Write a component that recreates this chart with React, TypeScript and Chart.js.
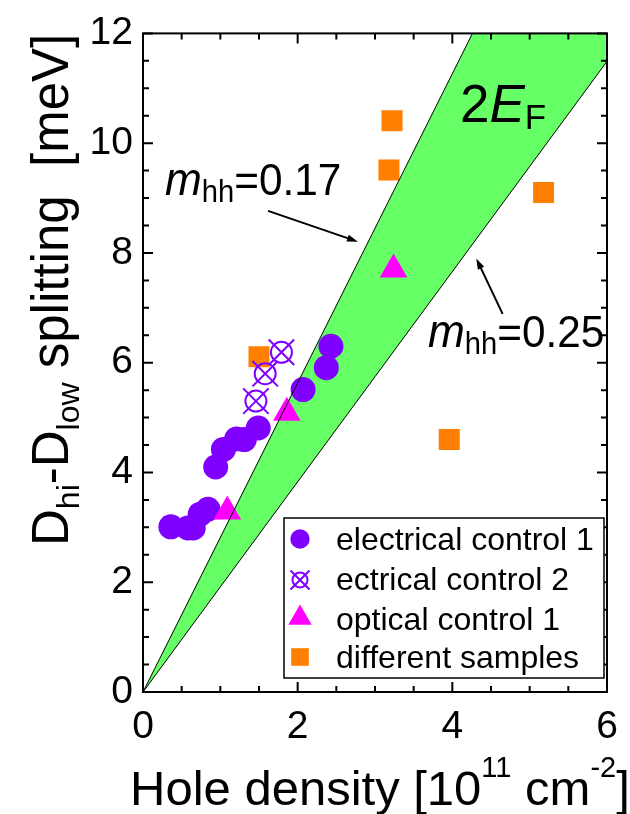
import React, { useEffect, useRef } from "react";
import { Chart, registerables } from "chart.js";
Chart.register(...registerables);

const FONT = '"Liberation Sans", Arial, Helvetica, sans-serif';
const PURPLE = "#7F00FF";
const MAGENTA = "#FF00FF";
const ORANGE = "#FF8000";
const GREEN = "#66FF66";

// electrical control 1
const ec1X = [0.36, 0.58, 0.65, 0.74, 0.84, 0.94, 1.04, 1.21, 1.31, 1.49, 2.07, 2.37, 2.43];
const ec1Y = [3.01, 2.99, 2.99, 3.24, 3.33, 4.1, 4.42, 4.61, 4.6, 4.81, 5.51, 5.91, 6.3];
// ectrical control 2
const ec2X = [1.46, 1.58, 1.79];
const ec2Y = [5.3, 5.8, 6.19];
// optical control 1
const ocX = [1.09, 1.86, 3.24];
const ocY = [3.29, 5.09, 7.7];
// different samples
const dsX = [1.5, 3.22, 3.18, 5.18, 3.96];
const dsY = [6.11, 10.41, 9.51, 9.1, 4.6];
// 2E_F band: m_hh = 0.17 (upper) and m_hh = 0.25 (lower) boundaries
const upperX = [0, 6];
const upperY = [0, 16.9];
const lowerX = [0, 6];
const lowerY = [0, 11.49];
const bandX = [0, 6, 6, 0];
const bandY = [0, 16.9, 11.49, 0];

const xTicks = [0, 2, 4, 6];
const yTicks = [0, 2, 4, 6, 8, 10, 12];

const legendLabels = ["electrical control 1", "ectrical control 2", "optical control 1", "different samples"];

type Seg = { t: string; size: number; it?: boolean; dy?: number };

function rich(ctx: CanvasRenderingContext2D, x: number, y: number, segs: Seg[], sx = 1, rot = 0) {
  ctx.save();
  ctx.translate(x, y);
  if (rot) ctx.rotate(rot);
  ctx.scale(sx, 1);
  ctx.fillStyle = "#000";
  ctx.textBaseline = "alphabetic";
  ctx.textAlign = "left";
  let cx = 0;
  for (const s of segs) {
    ctx.font = `${s.it ? "italic " : ""}${s.size}px ${FONT}`;
    ctx.fillText(s.t, cx, s.dy || 0);
    cx += ctx.measureText(s.t).width;
  }
  ctx.restore();
}

function arrow(ctx: CanvasRenderingContext2D, x1: number, y1: number, x2: number, y2: number) {
  const a = Math.atan2(y2 - y1, x2 - x1);
  const L = 11, W = 3.5;
  ctx.save();
  ctx.strokeStyle = "#000";
  ctx.fillStyle = "#000";
  ctx.lineWidth = 2;
  ctx.beginPath();
  ctx.moveTo(x1, y1);
  ctx.lineTo(x2 - Math.cos(a) * L * 0.8, y2 - Math.sin(a) * L * 0.8);
  ctx.stroke();
  ctx.beginPath();
  ctx.moveTo(x2, y2);
  ctx.lineTo(x2 - Math.cos(a) * L - Math.sin(a) * W, y2 - Math.sin(a) * L + Math.cos(a) * W);
  ctx.lineTo(x2 - Math.cos(a) * L + Math.sin(a) * W, y2 - Math.sin(a) * L - Math.cos(a) * W);
  ctx.closePath();
  ctx.fill();
  ctx.restore();
}

const decor = {
  id: "decor",
  afterDraw(chart: any) {
    const ctx: CanvasRenderingContext2D = chart.ctx;
    const { left, right, top, bottom } = chart.chartArea;
    const xs = chart.scales.x;
    const ys = chart.scales.y;
    const px = (v: number) => xs.getPixelForValue(v);
    const py = (v: number) => ys.getPixelForValue(v);

    // frame
    ctx.save();
    ctx.strokeStyle = "#000";
    ctx.lineWidth = 2;
    ctx.strokeRect(left, top, right - left, bottom - top);
    // ticks
    ctx.lineWidth = 2;
    ctx.beginPath();
    for (let v = 0; v <= 6.0001; v += 0.5) {
      const L = Math.abs(v % 2) < 1e-6 ? 10 : 6;
      const x = px(v);
      ctx.moveTo(x, bottom); ctx.lineTo(x, bottom - L);
      ctx.moveTo(x, top); ctx.lineTo(x, top + L);
    }
    for (let v = 0; v <= 12.0001; v += 0.5) {
      const L = Math.abs(v % 2) < 1e-6 ? 10 : 6;
      const y = py(v);
      ctx.moveTo(left, y); ctx.lineTo(left + L, y);
      ctx.moveTo(right, y); ctx.lineTo(right - L, y);
    }
    ctx.stroke();
    ctx.restore();

    // axis titles
    rich(ctx, 130, 805, [
      { t: "Hole density [10", size: 49 },
      { t: "11", size: 29, dy: -28 },
      { t: " cm", size: 49 },
      { t: "-2", size: 29, dy: -28 },
      { t: "]", size: 49 },
    ]);
    rich(ctx, 68, 546, [
      { t: "D", size: 51 },
      { t: "hi", size: 32, dy: 11 },
      { t: "-D", size: 51 },
      { t: "low", size: 32, dy: 11 },
      { t: " splitting  [meV]", size: 51 },
    ], 1, -Math.PI / 2);

    // annotations
    rich(ctx, 460, 122, [
      { t: "2", size: 53 },
      { t: "E", size: 53, it: true },
      { t: "F", size: 35, dy: 7 },
    ]);
    rich(ctx, 165, 195, [
      { t: "m", size: 47, it: true },
      { t: "hh", size: 31, dy: 7 },
      { t: "=0.17", size: 45 },
    ], 0.94);
    rich(ctx, 428, 347, [
      { t: "m", size: 47, it: true },
      { t: "hh", size: 31, dy: 7 },
      { t: "=0.25", size: 45 },
    ], 0.94);
    arrow(ctx, px(1.617), py(8.766), px(2.78), py(8.205));
    arrow(ctx, px(4.65), py(6.89), px(4.31), py(7.9));

    // legend
    const bx = right - 323, by = bottom - 174, bw = 320, bh = 160;
    ctx.save();
    ctx.fillStyle = "#fff";
    ctx.fillRect(bx, by, bw, bh);
    ctx.strokeStyle = "#000";
    ctx.lineWidth = 1.5;
    ctx.strokeRect(bx, by, bw, bh);
    const mx = bx + 16;
    const baselines = [32, 72, 112, 150];
    const centers = [21, 62, 100, 139];
    ctx.font = `32px ${FONT}`;
    ctx.fillStyle = "#000";
    ctx.textBaseline = "alphabetic";
    legendLabels.forEach((lab, i) => {
      ctx.fillStyle = "#000";
      ctx.fillText(lab, bx + 52, by + baselines[i]);
    });
    // markers
    let cy = by + centers[0];
    ctx.fillStyle = PURPLE;
    ctx.beginPath(); ctx.arc(mx, cy, 9.7, 0, Math.PI * 2); ctx.fill();
    cy = by + centers[1];
    ctx.strokeStyle = PURPLE; ctx.lineWidth = 2;
    ctx.beginPath(); ctx.arc(mx, cy, 7.5, 0, Math.PI * 2); ctx.stroke();
    ctx.beginPath();
    ctx.moveTo(mx - 9.5, cy - 9.5); ctx.lineTo(mx + 9.5, cy + 9.5);
    ctx.moveTo(mx + 9.5, cy - 9.5); ctx.lineTo(mx - 9.5, cy + 9.5);
    ctx.stroke();
    cy = by + centers[2];
    const r = 13.5;
    ctx.fillStyle = MAGENTA;
    ctx.beginPath();
    ctx.moveTo(mx, cy - r);
    ctx.lineTo(mx + r * Math.sin((2 * Math.PI) / 3), cy - r * Math.cos((2 * Math.PI) / 3));
    ctx.lineTo(mx - r * Math.sin((2 * Math.PI) / 3), cy - r * Math.cos((2 * Math.PI) / 3));
    ctx.closePath(); ctx.fill();
    cy = by + centers[3];
    ctx.fillStyle = ORANGE;
    ctx.fillRect(mx - 8.8, cy - 8.8, 17.6, 17.6);
    ctx.restore();
  },
};

const pts = (xs: number[], ys: number[]) => xs.map((x, i) => ({ x, y: ys[i] }));

export default function App() {
  const ref = useRef<HTMLCanvasElement>(null);
  useEffect(() => {
    const canvas = ref.current!;
    const tickFont = { family: FONT, size: 39 };
    const chart = new Chart(canvas, {
      type: "scatter",
      data: {
        datasets: [
          { label: "m_hh=0.17", data: pts(upperX, upperY), showLine: true, borderColor: "#000", borderWidth: 1, pointRadius: 0, fill: false, order: 0 } as any,
          { label: "m_hh=0.25", data: pts(lowerX, lowerY), showLine: true, borderColor: "#000", borderWidth: 1, pointRadius: 0, fill: false, order: 0 } as any,
          { label: "ectrical control 2", data: pts(ec2X, ec2Y), pointStyle: "circle", pointRadius: 10.5, backgroundColor: "rgba(0,0,0,0)", borderColor: PURPLE, borderWidth: 2, order: 1 },
          { label: "ectrical control 2 x", data: pts(ec2X, ec2Y), pointStyle: "crossRot", pointRadius: 18, backgroundColor: PURPLE, borderColor: PURPLE, borderWidth: 2, order: 1 },
          { label: "optical control 1", data: pts(ocX, ocY), pointStyle: "triangle", pointRadius: 16, backgroundColor: MAGENTA, borderColor: MAGENTA, borderWidth: 0, order: 2 },
          { label: "electrical control 1", data: pts(ec1X, ec1Y), pointStyle: "circle", pointRadius: 12.5, backgroundColor: PURPLE, borderColor: PURPLE, borderWidth: 0, order: 3 },
          { label: "different samples", data: pts(dsX, dsY), pointStyle: "rect", pointRadius: 14.85, backgroundColor: ORANGE, borderColor: ORANGE, borderWidth: 0, order: 4 },
          { label: "2E_F", data: pts(bandX, bandY), showLine: true, borderColor: "rgba(0,0,0,0)", borderWidth: 1, backgroundColor: GREEN, pointRadius: 0, fill: "shape", order: 10 } as any,
        ],
      },
      options: {
        responsive: false,
        animation: false,
        devicePixelRatio: 1,
        layout: { padding: { left: 0, right: 23, top: 28, bottom: 0 } },
        plugins: { legend: { display: false }, tooltip: { enabled: false } },
        elements: { point: { hoverRadius: 0 } },
        scales: {
          x: {
            type: "linear", min: 0, max: 6,
            afterBuildTicks: (s: any) => { s.ticks = xTicks.map((v) => ({ value: v })); },
            ticks: { font: tickFont, color: "#000", padding: 12, maxRotation: 0, autoSkip: false },
            grid: { display: false, drawTicks: false },
            border: { display: false },
            afterFit: (s: any) => { s.height = 122; },
          },
          y: {
            type: "linear", min: 0, max: 12,
            afterBuildTicks: (s: any) => { s.ticks = yTicks.map((v) => ({ value: v })); },
            ticks: { font: tickFont, color: "#000", padding: 10, autoSkip: false },
            grid: { display: false, drawTicks: false },
            border: { display: false },
            afterFit: (s: any) => { s.width = 143; },
          },
        },
      },
      plugins: [decor],
    } as any);
    return () => chart.destroy();
  }, []);
  return (
    <div style={{ position: "absolute", left: 0, top: 0, width: 630, height: 814, background: "#fff" }}>
      <canvas ref={ref} width={630} height={814} style={{ display: "block" }} />
    </div>
  );
}
